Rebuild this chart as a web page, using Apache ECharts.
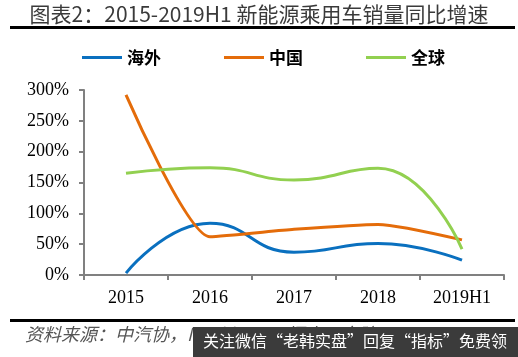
<!DOCTYPE html>
<html>
<head>
<meta charset="utf-8">
<script src="https://cdn.jsdelivr.net/npm/echarts@6/dist/echarts.min.js"></script>
<style>html,body{margin:0;padding:0;background:#fff;}#c{width:518px;height:357px;}</style>
</head>
<body>
<div id="c"></div>
<script>
var categories = ['2015', '2016', '2017', '2018', '2019H1'];
var overseas = [3, 84, 37, 51, 24];
var china = [292, 62, 74, 82, 57];
var globalSales = [165, 174, 154, 173, 42];
var yTicks = [0, 50, 100, 150, 200, 250, 300];

var chart = echarts.init(document.getElementById('c'), null, {renderer: 'canvas'});
var serif = '"Liberation Serif", "Times New Roman", serif';
var cjk = '"Noto Sans CJK SC", sans-serif';
chart.setOption({
  animation: false,
  backgroundColor: '#fff',
  title: {
    text: '图表2：2015-2019H1 新能源乘用车销量同比增速',
    left: 'center', top: -1,
    textStyle: {fontFamily: cjk, fontSize: 21, fontWeight: 'normal', color: '#3a3a3a'}
  },
  legend: {
    left: 77, top: 44,
    itemWidth: 40, itemHeight: 3, itemGap: 63,
    icon: 'rect',
    textStyle: {fontFamily: cjk, fontSize: 17, fontWeight: 'bold', color: '#000'},
    data: ['海外', '中国', '全球']
  },
  grid: {left: 84, right: 14, top: 90, bottom: 82, containLabel: false},
  xAxis: {
    type: 'category',
    data: categories,
    boundaryGap: true,
    axisLine: {lineStyle: {color: '#808080', width: 2}},
    axisTick: {show: true, length: 5, lineStyle: {color: '#808080', width: 2}},
    axisLabel: {fontFamily: serif, fontSize: 18, color: '#000', margin: 14}
  },
  yAxis: {
    type: 'value',
    min: yTicks[0], max: yTicks[yTicks.length - 1], interval: 50,
    splitLine: {show: false},
    axisLine: {show: true, lineStyle: {color: '#808080', width: 2}},
    axisTick: {show: true, length: 5, lineStyle: {color: '#808080', width: 2}},
    axisLabel: {fontFamily: serif, fontSize: 18, color: '#000', margin: 15, formatter: '{value}%'}
  },
  color: ['#0a70bf', '#e46c0a', '#92d050'],
  series: [
    {name: '海外', type: 'line', data: overseas, smooth: 0.5, symbol: 'none', lineStyle: {width: 3}},
    {name: '中国', type: 'line', data: china, smooth: 0.2, symbol: 'none', lineStyle: {width: 3}},
    {name: '全球', type: 'line', data: globalSales, smooth: 0.5, symbol: 'none', lineStyle: {width: 3}}
  ],
  graphic: [
    {type: 'rect', shape: {x: 10, y: 26, width: 505, height: 3}, style: {fill: '#000'}},
    {type: 'rect', shape: {x: 10, y: 319, width: 505, height: 3}, style: {fill: '#000'}},
    {type: 'text', left: 25, top: 325, style: {text: '资料来源：中汽协，Marklines，恒大研究院', fontFamily: cjk, fontSize: 18, fontStyle: 'italic', fill: '#555'}},
    {type: 'rect', shape: {x: 193, y: 327, width: 325, height: 30}, style: {fill: '#3b3b3b'}},
    {type: 'text', left: 203, top: 333, style: {text: '关注微信“老韩实盘”回复“指标”免费领', fontFamily: cjk, fontSize: 16, fill: '#fff'}}
  ]
});
</script>
</body>
</html>
